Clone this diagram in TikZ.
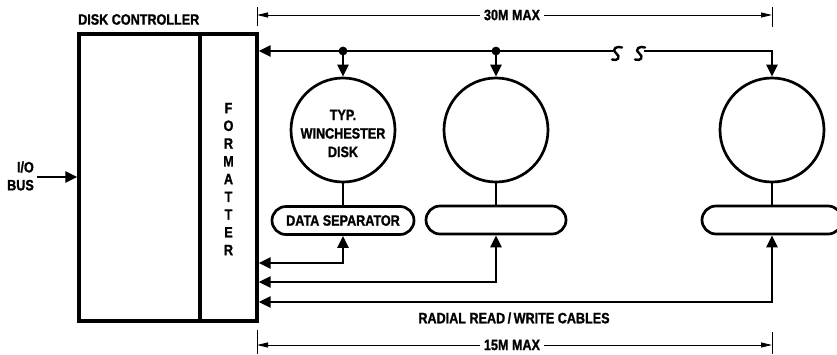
\documentclass[tikz,border=0pt]{standalone}
\usepackage{fontspec}
\setmainfont{Liberation Sans}[FakeStretch=0.84, BoldFeatures={FakeBold=1.2}]
\usetikzlibrary{arrows.meta}
\tikzset{
  lbl/.style={font=\bfseries\fontsize{15}{16}\selectfont, inner sep=2pt},
  thickbox/.style={draw, line width=3.2pt, inner sep=0pt},
  disk/.style={draw, circle, line width=2.7pt, minimum size=104pt, inner sep=0pt},
  pill/.style={draw, rounded corners=14pt, line width=2.7pt, minimum width=140pt, minimum height=28pt, inner sep=0pt},
  bus/.style={line width=2.6pt},
  bigtip/.tip={Triangle[length=12pt,width=11pt]},
  dim/.style={line width=1pt},
  dimtip/.tip={Triangle[length=11pt,width=5pt]},
}
\begin{document}
\begin{tikzpicture}[x=1pt,y=-1pt]
\useasboundingbox (0,0) rectangle (837,354);
% controller
\node[thickbox, minimum width=178pt, minimum height=287pt] (ctrl) at (168,177.5) {};
\node[thickbox, minimum width=57pt, minimum height=287pt] (fmt) at (228.5,177.5) {};
\node[lbl, anchor=south west, inner sep=0pt] (ctrltxt) at (78,25) {DISK CONTROLLER};
\node[lbl, align=center, font=\bfseries\fontsize{15}{17.75}\selectfont] (fmttxt) at (228.5,179) {F\\O\\R\\M\\A\\T\\T\\E\\R};
% I/O bus
\node[lbl, align=right, font=\bfseries\fontsize{15}{18}\selectfont, anchor=east, inner sep=0pt] (io) at (34,176) {I/O\\BUS};
\coordinate (ioin) at (ctrl.west |- 0,177);
\coordinate (iostart) at (37,177);
\draw[bus,-bigtip] (iostart) -- (ioin);
% disks
\node[disk] (d1) at (343,130) {};
\node[disk] (d2) at (496,130) {};
\node[disk] (d3) at (772,130) {};
\node[lbl, align=center, font=\bfseries\fontsize{15}{18.5}\selectfont] (d1txt) at (343,133.5) {TYP.\\WINCHESTER\\DISK};
% pills
\node[pill, minimum width=142pt] (p1) at (343,220.5) {};
\node[lbl] (p1txt) at (343,220.5) {DATA SEPARATOR};
\node[pill] (p2) at (496,220) {};
\node[pill] (p3) at (772,220) {};
\draw[bus] (d1.south) -- (p1.north);
\draw[bus] (d2.south) -- (p2.north);
\draw[bus] (d3.south) -- (p3.north);
% daisy-chain bus
\coordinate (b0) at (ctrl.east |- 0,51);
\coordinate (j1) at (343,51);
\coordinate (j2) at (496,51);
\coordinate (s1) at (613,51);
\coordinate (s2) at (644,51);
\draw[bus,-bigtip] (s1) -- (b0);
\draw[bus,-bigtip] (s2) -| (d3.north);
\draw[bus,-bigtip] (j1) -- (d1.north);
\draw[bus,-bigtip] (j2) -- (d2.north);
\fill (j1) circle (4.4pt);
\fill (j2) circle (4.4pt);
% break marks
\draw[line width=2.4pt, line cap=round] (622,47.5) .. controls (617,45.5) and (611,49) .. (616,53) .. controls (621,57) and (618,61.5) .. (612,59.5);
\draw[line width=2.4pt, line cap=round] (645,47.5) .. controls (640,45.5) and (634,49) .. (639,53) .. controls (644,57) and (641,61.5) .. (635,59.5);
% radial cables
\coordinate (r1) at (ctrl.east |- 0,263);
\coordinate (r2) at (ctrl.east |- 0,282);
\coordinate (r3) at (ctrl.east |- 0,302);
\draw[bus,bigtip-bigtip] (r1) -| (p1.south);
\draw[bus,bigtip-bigtip] (r2) -| (p2.south);
\draw[bus,bigtip-bigtip] (r3) -| (p3.south);
\node[lbl] (radial) at (514,318) {RADIAL READ\,/\,WRITE CABLES};
% dimensions
\coordinate (tl) at (257,15);
\coordinate (tr) at (772,15);
\draw[dim] (257,7) -- (257,26);
\draw[dim] (772,7) -- (772,27);
\node[lbl, fill=white, inner sep=4pt] (t30) at (512,15) {30M MAX};
\draw[dim,-dimtip] (t30.west) -- (tl);
\draw[dim,-dimtip] (t30.east) -- (tr);
\coordinate (bl) at (257,345);
\coordinate (br) at (772,345);
\draw[dim] (257,330) -- (257,354);
\draw[dim] (772,332) -- (772,354);
\node[lbl, fill=white, inner sep=4pt] (t15) at (512,345) {15M MAX};
\draw[dim,-dimtip] (t15.west) -- (bl);
\draw[dim,-dimtip] (t15.east) -- (br);
\end{tikzpicture}
\end{document}
